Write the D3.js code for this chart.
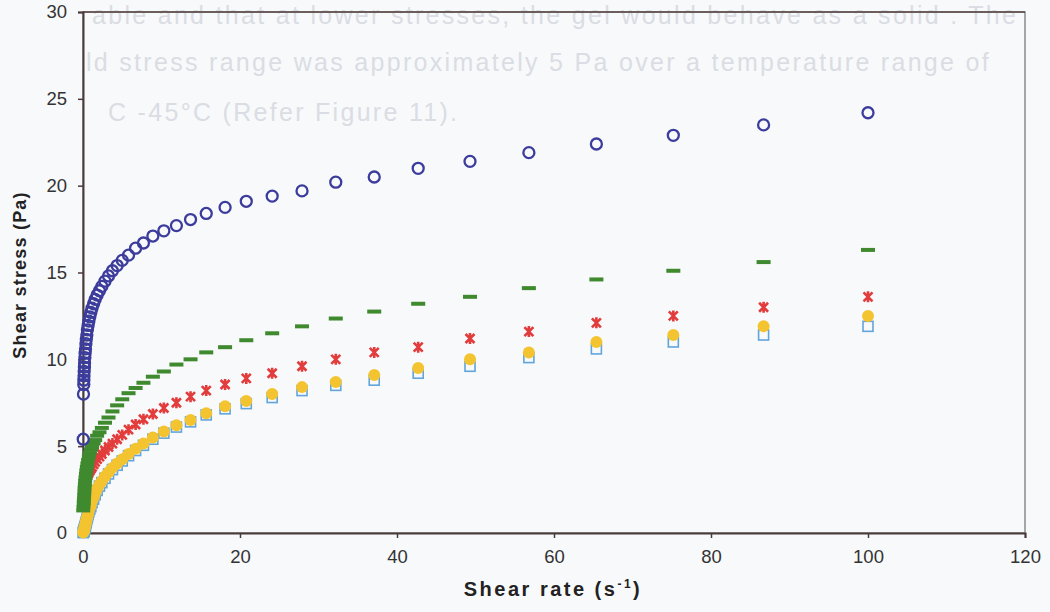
<!DOCTYPE html>
<html>
<head>
<meta charset="utf-8">
<script src="https://cdn.jsdelivr.net/npm/d3@7"></script>
<style>
  body { margin: 0; background: #f8f9fb; }
  svg { display: block; }
</style>
</head>
<body>
<div id="chart"></div>
<script>
// shear rate (s-1), shared by all series
var shearRate = [0.03, 0.06, 0.1, 0.11, 0.13, 0.15, 0.18, 0.2, 0.24, 0.27, 0.32, 0.37, 0.42, 0.49, 0.56, 0.65, 0.75, 0.87,
  1.0, 1.15, 1.35, 1.55, 1.8, 2.1, 2.4, 2.8, 3.25, 3.75, 4.35, 5.0, 5.8, 6.7, 7.7, 8.9, 10.3, 11.9, 13.7, 15.7, 18.1,
  20.8, 24.1, 27.9, 32.2, 37.1, 42.7, 49.3, 56.8, 65.4, 75.2, 86.7, 100];

// shear stress (Pa) per sample
var stressCircle = [5.4, 8.0, 8.55, 8.8, 9.05, 9.3, 9.55, 9.8, 10.1, 10.35, 10.6, 10.9, 11.15, 11.4, 11.7, 11.95, 12.2, 12.45,
  12.7, 12.95, 13.2, 13.45, 13.7, 13.95, 14.2, 14.5, 14.8, 15.1, 15.4, 15.7, 16.0, 16.4, 16.7, 17.1, 17.4, 17.7, 18.05, 18.4, 18.75,
  19.1, 19.4, 19.7, 20.2, 20.5, 21.0, 21.4, 21.9, 22.4, 22.9, 23.5, 24.2];

var stressDash = [1.3, 1.5, 1.7, 1.85, 2.0, 2.2, 2.4, 2.6, 2.8, 3.0, 3.2, 3.4, 3.6, 3.8, 4.0, 4.2, 4.4, 4.6,
  4.8, 4.95, 5.15, 5.35, 5.6, 5.8, 6.05, 6.35, 6.65, 7.0, 7.35, 7.7, 8.05, 8.35, 8.65, 9.0, 9.3, 9.7, 10.0, 10.4, 10.7,
  11.1, 11.5, 11.9, 12.35, 12.75, 13.2, 13.6, 14.1, 14.6, 15.1, 15.6, 16.3];

var stressStar = [1.7, 1.9, 2.1, 2.2, 2.3, 2.4, 2.5, 2.6, 2.7, 2.8, 2.9, 3.0, 3.1, 3.2, 3.3, 3.4, 3.5, 3.6,
  3.7, 3.8, 3.95, 4.1, 4.25, 4.4, 4.55, 4.75, 4.95, 5.15, 5.4, 5.65, 5.95, 6.25, 6.55, 6.85, 7.2, 7.5, 7.85, 8.2, 8.55,
  8.9, 9.2, 9.6, 10.0, 10.4, 10.7, 11.2, 11.6, 12.1, 12.5, 13.0, 13.6];

var stressDot = [0.03, 0.06, 0.1, 0.12, 0.15, 0.2, 0.25, 0.3, 0.35, 0.42, 0.5, 0.6, 0.7, 0.85, 0.95, 1.1, 1.3, 1.45,
  1.6, 1.85, 2.05, 2.3, 2.55, 2.8, 3.0, 3.25, 3.5, 3.75, 4.0, 4.25, 4.55, 4.85, 5.15, 5.5, 5.85, 6.2, 6.5, 6.9, 7.3,
  7.6, 8.0, 8.4, 8.7, 9.1, 9.5, 10.0, 10.4, 11.0, 11.4, 11.9, 12.5];

var stressSquare = [0.02, 0.05, 0.08, 0.1, 0.13, 0.17, 0.22, 0.27, 0.32, 0.38, 0.45, 0.55, 0.65, 0.78, 0.9, 1.05, 1.22, 1.38,
  1.52, 1.75, 1.95, 2.2, 2.45, 2.7, 2.9, 3.15, 3.4, 3.65, 3.9, 4.15, 4.45, 4.75, 5.05, 5.4, 5.75, 6.1, 6.4, 6.8, 7.15,
  7.45, 7.8, 8.2, 8.5, 8.8, 9.2, 9.6, 10.1, 10.6, 11.0, 11.4, 11.9];

var xTicks = [0, 20, 40, 60, 80, 100, 120];
var yTicks = [0, 5, 10, 15, 20, 25, 30];

var svgWidth = 1050;
var svgHeight = 612;
var margin = { top: 12, right: 25, bottom: 79, left: 83 };
var width = svgWidth - margin.left - margin.right;
var height = svgHeight - margin.top - margin.bottom;

var svg = d3.select("#chart")
  .append("svg")
  .attr("width", svgWidth)
  .attr("height", svgHeight)
  .style("font-family", "Arial, 'Liberation Sans', sans-serif");

// faint text from the reverse side of the scanned page
var ghost = svg.append("g")
  .attr("fill", "#dadde3")
  .attr("font-size", "25px")
  .attr("letter-spacing", "2.3px");
ghost.append("text").attr("x", 92).attr("y", 24).text("able and that at lower stresses, the gel would behave as a solid .  The");
ghost.append("text").attr("x", 86).attr("y", 71).text("ld stress range was approximately 5 Pa over a temperature range of");
ghost.append("text").attr("x", 108).attr("y", 121).text("C -45°C (Refer Figure 11).");

var chartGroup = svg.append("g")
  .attr("transform", `translate(${margin.left}, ${margin.top})`);

var xScale = d3.scaleLinear().domain([0, 120]).range([0, width]);
var yScale = d3.scaleLinear().domain([0, 30]).range([height, 0]);

// frame
chartGroup.append("rect")
  .attr("width", width)
  .attr("height", height)
  .attr("fill", "none")
  .attr("stroke", "#8a8a8a")
  .attr("stroke-width", 1.5);
chartGroup.append("line")
  .attr("x1", 0).attr("x2", width).attr("y1", 0).attr("y2", 0)
  .attr("stroke", "#5a4646").attr("stroke-width", 1.5);

var bottomAxis = d3.axisBottom(xScale).tickValues(xTicks).tickSize(5).tickPadding(12);
var leftAxis = d3.axisLeft(yScale).tickValues(yTicks).tickSize(5).tickPadding(11);

var gx = chartGroup.append("g")
  .attr("transform", `translate(0, ${height})`)
  .call(bottomAxis);
var gy = chartGroup.append("g").call(leftAxis);

[gx, gy].forEach(g => {
  g.attr("font-size", null).attr("font-family", null);
  g.select(".domain").attr("stroke", "#4a3a3a").attr("stroke-width", 2);
  g.selectAll(".tick line").attr("stroke", "#4a3a3a").attr("stroke-width", 1.5);
  g.selectAll(".tick text")
    .attr("fill", "#333")
    .style("font-size", "18.5px")
    .style("font-family", "Arial, 'Liberation Sans', sans-serif");
});

var rows = shearRate.map((x, i) => ({
  x: x,
  circle: stressCircle[i],
  dash: stressDash[i],
  star: stressStar[i],
  dot: stressDot[i],
  square: stressSquare[i]
}));

// open squares
chartGroup.append("g").selectAll("rect")
  .data(rows)
  .enter()
  .append("rect")
  .attr("x", d => xScale(d.x) - 5)
  .attr("y", d => yScale(d.square) - 5)
  .attr("width", 10)
  .attr("height", 10)
  .attr("fill", "none")
  .attr("stroke", "#62a4dc")
  .attr("stroke-width", 1.6);

// filled circles
chartGroup.append("g").selectAll("circle")
  .data(rows)
  .enter()
  .append("circle")
  .attr("cx", d => xScale(d.x))
  .attr("cy", d => yScale(d.dot))
  .attr("r", 6)
  .attr("fill", "#f4c430");

// stars
var starPath = "M-4.5,-4.5L4.5,4.5M-4.5,4.5L4.5,-4.5M0,-5.5L0,5.5";
chartGroup.append("g").selectAll("path")
  .data(rows)
  .enter()
  .append("path")
  .attr("d", starPath)
  .attr("transform", d => `translate(${xScale(d.x)}, ${yScale(d.star)})`)
  .attr("fill", "none")
  .attr("stroke", "#e23c3c")
  .attr("stroke-width", 2.6);

// dashes
chartGroup.append("g").selectAll("rect")
  .data(rows)
  .enter()
  .append("rect")
  .attr("x", d => xScale(d.x) - 7)
  .attr("y", d => yScale(d.dash) - 2)
  .attr("width", 14)
  .attr("height", 4)
  .attr("fill", "#3f8a2f");

// open circles
chartGroup.append("g").selectAll("circle")
  .data(rows)
  .enter()
  .append("circle")
  .attr("cx", d => xScale(d.x))
  .attr("cy", d => yScale(d.circle))
  .attr("r", 5.5)
  .attr("fill", "none")
  .attr("stroke", "#3c3c9c")
  .attr("stroke-width", 2.3);

// axis labels
svg.append("text")
  .attr("transform", `translate(26, 275) rotate(-90)`)
  .attr("text-anchor", "middle")
  .attr("font-size", "18px")
  .attr("font-weight", "bold")
  .attr("letter-spacing", "1.2px")
  .attr("fill", "#222")
  .text("Shear stress (Pa)");

var xLabel = svg.append("text")
  .attr("x", 553)
  .attr("y", 596)
  .attr("text-anchor", "middle")
  .attr("font-size", "20px")
  .attr("font-weight", "bold")
  .attr("letter-spacing", "2.5px")
  .attr("fill", "#222");
xLabel.append("tspan").text("Shear rate (s");
xLabel.append("tspan").attr("font-size", "12px").attr("dy", -8).text("-1");
xLabel.append("tspan").attr("dy", 8).text(")");
</script>
</body>
</html>
